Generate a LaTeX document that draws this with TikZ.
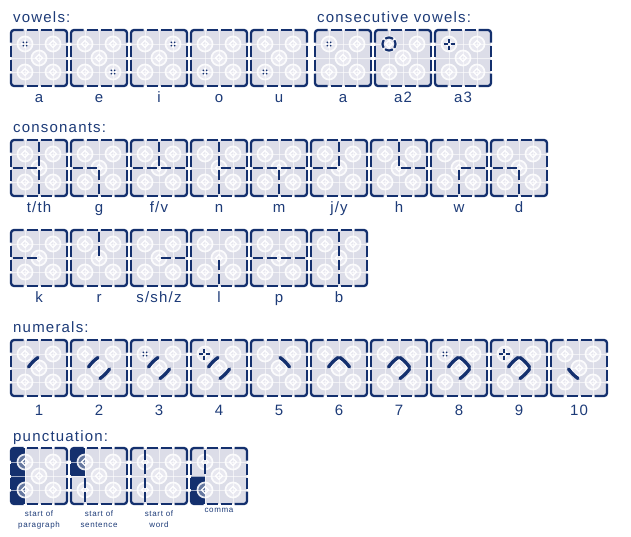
\documentclass[tikz,border=0pt]{standalone}
\usepackage{fontspec}
\setmainfont{Liberation Sans}[LetterSpace=8]
\definecolor{navy}{HTML}{14306E}
\definecolor{txt}{HTML}{1D3B78}
\definecolor{tilebg}{HTML}{DCDDE8}
\tikzset{
 nv/.style={draw=navy,line width=2.3pt},
 nvd/.style={draw=navy,line width=2.2pt,dash pattern=on 10.5pt off 3.5pt,dash phase=12.25pt},
 gridw/.style={draw=white,line width=1pt,opacity=0.6},
 motring/.style={draw=white,line width=1.6pt,opacity=0.85},
 numstroke/.style={draw=navy,line width=3.3pt,line cap=round},
 head/.style={font=\fontsize{15}{18}\selectfont,text=txt,inner sep=0,anchor=base west},
 lab/.style={font=\fontsize{15}{18}\selectfont,text=txt,inner sep=0,anchor=base},
 plab/.style={font=\fontsize{8}{10.5}\selectfont,text=txt,inner sep=0,anchor=north,align=center},
}
\newcommand\tborder{%
 \draw[nv,rounded corners=3pt] (0,12.5)--(0,0)--(12.5,0);
 \draw[nv,rounded corners=3pt] (43.5,0)--(56,0)--(56,12.5);
 \draw[nv,rounded corners=3pt] (56,43.5)--(56,56)--(43.5,56);
 \draw[nv,rounded corners=3pt] (12.5,56)--(0,56)--(0,43.5);
 \foreach \a/\b in {15.5/26.5,29.5/40.5}{%
   \draw[nv] (\a,0)--(\b,0); \draw[nv] (\a,56)--(\b,56);
   \draw[nv] (0,\a)--(0,\b); \draw[nv] (56,\a)--(56,\b);}%
}
\newcommand\tile[4]{%
\begin{scope}[shift={(#1,#2)}]
 \fill[tilebg] (0,0) rectangle (56,56);
 #3
 \foreach \k in {14,28,42}{\draw[gridw] (\k,0)--(\k,56); \draw[gridw] (0,\k)--(56,\k);}
 \foreach \mx/\my in {14/14,42/14,28/28,14/42,42/42}{%
  \begin{scope}[shift={(\mx,\my)}]
   \fill[white,opacity=0.35] (0,0) circle (8.5);
   \draw[motring] (0,0) circle (7.5);
   \draw[white,line width=1.2pt] (-3.5,0)--(0,-3.5)--(3.5,0)--(0,3.5)--cycle;
  \end{scope}}
 #4
 \tborder
\end{scope}}
\newcommand\dotmark[2]{\begin{scope}[shift={(#1,#2)}]\foreach \dx/\dy in {-1.7/-1.7,1.7/-1.7,-1.7/1.7,1.7/1.7}{\fill[navy] (\dx,\dy) circle (0.95);}\end{scope}}
\newcommand\crossmark[2]{\begin{scope}[shift={(#1,#2)}]\draw[navy,line width=1.6pt] (0,-1.5)--(0,-5.5) (0,1.5)--(0,5.5) (-1.5,0)--(-5.5,0) (1.5,0)--(5.5,0);\end{scope}}
\newcommand\ringmark[2]{\draw[navy,line width=2.2pt,dash pattern=on 8.2pt off 2pt,dash phase=4.1pt] (#1,#2) circle (6.5);}
% numeral stroke on the NW side of the centre; the argument turns it (screen): -90 NE, 180 SE, 90 SW
\newcommand\narc[1]{\begin{scope}[rotate around={#1:(28,28)}]\draw[numstroke] (17.5,27) .. controls (19,24.5) and (24.5,19) .. (27,17.5);\end{scope}}
\newcommand\lineL{\draw[nvd] (0,28)--(28,28);}
\newcommand\lineR{\draw[nvd] (28,28)--(56,28);}
\newcommand\lineU{\draw[nvd] (28,0)--(28,28);}
\newcommand\lineD{\draw[nvd] (28,28)--(28,56);}
\begin{document}
\begin{tikzpicture}[x=1pt,y=-1pt]
\useasboundingbox (0,0) rectangle (631,536);
\fill[white] (0,0) rectangle (631,536);
% headings
\node[head] (hv) at (13,22) {vowels:};
\node[head] (hc) at (317,22) {consecutive vowels:};
\node[head] (hk) at (13,132) {consonants:};
\node[head] (hn) at (13,332) {numerals:};
\node[head] (hp) at (13,441) {punctuation:};
% vowels
\tile{11}{30}{}{\dotmark{14}{14}}
\tile{71}{30}{}{\dotmark{42}{42}}
\tile{131}{30}{}{\dotmark{42}{14}}
\tile{191}{30}{}{\dotmark{14}{42}}
\tile{251}{30}{}{\dotmark{14}{42}}
\tile{315}{30}{}{\dotmark{14}{14}}
\tile{375}{30}{}{\ringmark{14}{14}}
\tile{435}{30}{}{\crossmark{14}{14}}
\node[lab] (la) at (39,102) {a};
\node[lab] (le) at (99,102) {e};
\node[lab] (li) at (159,102) {i};
\node[lab] (lo) at (219,102) {o};
\node[lab] (lu) at (279,102) {u};
\node[lab] (lca) at (343,102) {a};
\node[lab] (lca2) at (403,102) {a2};
\node[lab] (lca3) at (463,102) {a3};
% consonants row 1
\tile{11}{140}{}{\lineU\lineD\lineL}
\tile{71}{140}{}{\lineL\lineD}
\tile{131}{140}{}{\lineL\lineR\lineU}
\tile{191}{140}{}{\lineU\lineD\lineR}
\tile{251}{140}{}{\lineL\lineR\lineD}
\tile{311}{140}{}{\lineL\lineU}
\tile{371}{140}{}{\lineU\lineR}
\tile{431}{140}{}{\lineD\lineR}
\tile{491}{140}{}{\lineL\lineD}
\node[lab] (lt) at (39,212) {t/th};
\node[lab] (lg) at (99,212) {g};
\node[lab] (lf) at (159,212) {f/v};
\node[lab] (ln) at (219,212) {n};
\node[lab] (lm) at (279,212) {m};
\node[lab] (lj) at (339,212) {j/y};
\node[lab] (lh) at (399,212) {h};
\node[lab] (lw) at (459,212) {w};
\node[lab] (ld) at (519,212) {d};
% consonants row 2
\tile{11}{230}{}{\lineL}
\tile{71}{230}{}{\lineU}
\tile{131}{230}{}{\lineR}
\tile{191}{230}{}{\lineD}
\tile{251}{230}{}{\lineL\lineR}
\tile{311}{230}{}{\lineU\lineD}
\node[lab] (lk) at (39,302) {k};
\node[lab] (lr) at (99,302) {r};
\node[lab] (ls) at (159,302) {s/sh/z};
\node[lab] (ll) at (219,302) {l};
\node[lab] (lp) at (279,302) {p};
\node[lab] (lb) at (339,302) {b};
% numerals
\tile{11}{340}{}{\narc{0}}
\tile{71}{340}{}{\narc{0}\narc{180}}
\tile{131}{340}{}{\dotmark{14}{14}\narc{0}\narc{180}}
\tile{191}{340}{}{\crossmark{13}{14}\narc{0}\narc{180}}
\tile{251}{340}{}{\narc{-90}}
\tile{311}{340}{}{\narc{0}\narc{-90}}
\tile{371}{340}{}{\narc{0}\narc{-90}\narc{180}}
\tile{431}{340}{}{\dotmark{14}{14}\narc{0}\narc{-90}\narc{180}}
\tile{491}{340}{}{\crossmark{13}{14}\narc{0}\narc{-90}\narc{180}}
\tile{551}{340}{}{\narc{90}}
\foreach \i in {1,...,10}{\node[lab] (n\i) at ({-21+60*\i},415) {\i};}
% punctuation
\tile{11}{448}{\fill[navy] (0,0) rectangle (14,56);}{}
\tile{71}{448}{\fill[navy] (0,0) rectangle (14,28);}{\draw[nvd] (14,28)--(14,56);}
\tile{131}{448}{}{\draw[nvd] (14,0)--(14,56);}
\tile{191}{448}{\fill[navy] (0,28) rectangle (14,56);}{\draw[nvd] (14,0)--(14,28);}
\node[plab] (p1) at (39,511) {start of\\paragraph};
\node[plab] (p2) at (99,511) {start of\\sentence};
\node[plab] (p3) at (159,511) {start of\\word};
\node[plab] (p4) at (219,508) {comma};
\end{tikzpicture}
\end{document}
